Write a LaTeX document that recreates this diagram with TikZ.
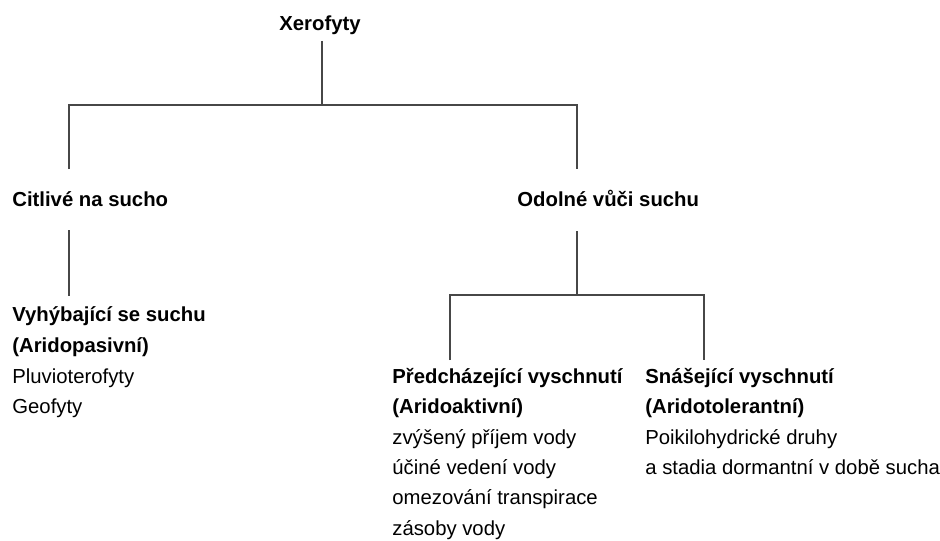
\documentclass[tikz,border=0pt]{standalone}
\usepackage{fontspec}
\setmainfont{Liberation Sans}
\tikzset{
  branch/.style={draw=black!72, line width=1.4pt},
  title/.style={font=\fontsize{10.15}{12}\selectfont\bfseries},
}
\begin{document}
\begin{tikzpicture}[x=0.5pt,y=-0.5pt,anchor=base west,inner sep=0pt,font=\fontsize{10.15}{12}\selectfont]
    \path[fill=white] (0,0) rectangle (940,540);
    \node[title,anchor=base] (xero) at (320,31) {Xerofyty};
    \node[title] (cit) at (12,206) {Citlivé na sucho}; \node[title] (odo) at (517,206) {Odolné vůči suchu};
    %% top level
    \coordinate (t0) at (322,41); \coordinate (t1) at (322,105);
    \coordinate (c1) at (69,169); \coordinate (o1) at (577,169);
    \draw[branch] (t0) -- (t1);
    \draw[branch] (c1) |- (t1) -| (o1);
    % left branch
    \coordinate (c2) at (69,230); \coordinate (c3) at (69,296);
    \draw[branch] (c2) -- (c3);
    \node[title] (vyh1) at (12,321) {Vyhýbající se suchu};
    \node[title] (vyh2) at (12,352) {(Aridopasivní)};
    \node (vyh3) at (12,383) {Pluvioterofyty};
    \node (vyh4) at (12,413) {Geofyty};
    % right branch
    \coordinate (o2) at (577,231); \coordinate (o3) at (577,295);
    \coordinate (a1) at (450,360); \coordinate (s1) at (704,360);
    \draw[branch] (o2) -- (o3);
    \draw[branch] (a1) |- (o3) -| (s1);
    %right, left branch
    \node[title] (pre1) at (392,383) {Předcházející vyschnutí};
    \node[title] (pre2) at (392,413) {(Aridoaktivní)};
    \node (pre3) at (392,444) {zvýšený příjem vody};
    \node (pre4) at (392,474) {účiné vedení vody};
    \node (pre5) at (392,504) {omezování transpirace};
    \node (pre6) at (392,535) {zásoby vody};
    %right, right branch
    \node[title] (sna1) at (645,383) {Snášející vyschnutí};
    \node[title] (sna2) at (645,413) {(Aridotolerantní)};
    \node (sna3) at (645,444) {Poikilohydrické druhy};
    \node (sna4) at (645,474) {a stadia dormantní v době sucha};
\end{tikzpicture}
\end{document}
